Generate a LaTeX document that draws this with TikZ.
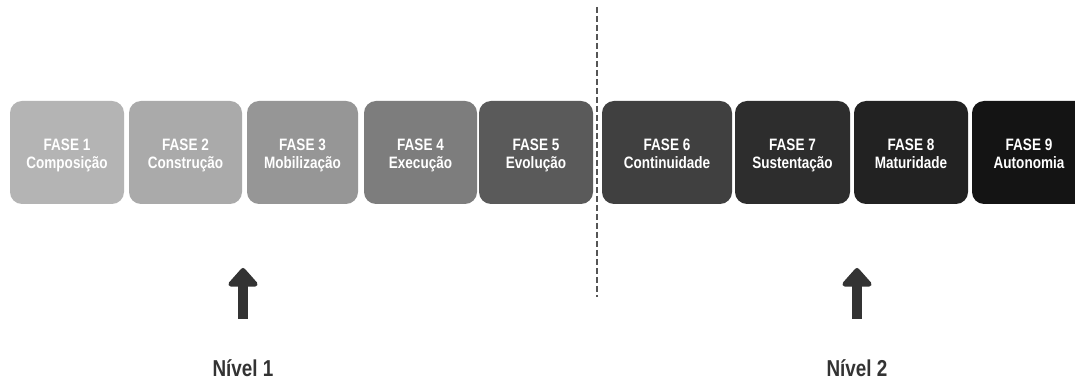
\documentclass[tikz,border=0pt]{standalone}
\usepackage{fontspec}
\setmainfont{Liberation Sans}
\newfontfamily\condfont[FakeStretch=0.82]{Liberation Sans}
\usetikzlibrary{arrows.meta}
\definecolor{c1}{HTML}{B4B4B4}
\definecolor{c2}{HTML}{AAAAAA}
\definecolor{c3}{HTML}{969696}
\definecolor{c4}{HTML}{7D7D7D}
\definecolor{c5}{HTML}{5A5A5A}
\definecolor{c6}{HTML}{404040}
\definecolor{c7}{HTML}{2D2D2D}
\definecolor{c8}{HTML}{222222}
\definecolor{c9}{HTML}{141414}
\definecolor{arrowc}{HTML}{333333}
\definecolor{dashc}{HTML}{555555}
\newcommand{\ph}[2]{\strut #1\\\strut #2}
\tikzset{
  phasebox/.style={rounded corners=12pt, draw=none},
  phasetext/.style={text=white, font=\condfont\bfseries\fontsize{16.5}{18}\selectfont, align=center, inner sep=0pt},
  levelarrow/.style={arrowc, line width=10pt, -{Triangle[width=34pt,length=20pt,round]}},
  leveltext/.style={text=arrowc, font=\condfont\bfseries\fontsize{23}{26}\selectfont},
  divider/.style={dashc, line width=2pt, dash pattern=on 6pt off 3pt}
}
\begin{document}
\begin{tikzpicture}[x=1pt,y=1pt]
\clip (0,0) rectangle (1075,385);
\fill[white] (0,0) rectangle (1075,385);
\foreach \l/\r/\c in {
  10/124/c1,
  129/242/c2,
  247/358/c3,
  364/477/c4,
  479/593/c5,
  602/732/c6,
  735/850/c7,
  854/968/c8,
  972/1095/c9}{
  \fill[phasebox, \c] (\l,181) rectangle (\r,284);
}
\node[phasetext] (f1) at (67,229.5) {\ph{FASE 1}{Composição}};
\node[phasetext] (f2) at (185.5,229.5) {\ph{FASE 2}{Construção}};
\node[phasetext] (f3) at (302.5,229.5) {\ph{FASE 3}{Mobilização}};
\node[phasetext] (f4) at (420.5,229.5) {\ph{FASE 4}{Execução}};
\node[phasetext] (f5) at (536,229.5) {\ph{FASE 5}{Evolução}};
\node[phasetext] (f6) at (667,229.5) {\ph{FASE 6}{Continuidade}};
\node[phasetext] (f7) at (792.5,229.5) {\ph{FASE 7}{Sustentação}};
\node[phasetext] (f8) at (911,229.5) {\ph{FASE 8}{Maturidade}};
\node[phasetext] (f9) at (1029,229.5) {\ph{FASE 9}{Autonomia}};
\coordinate (dtop) at (597,378);
\coordinate (dbot) at (597,88);
\draw[divider] (dtop) -- (dbot);
\coordinate (a1s) at (243,66);
\coordinate (a1t) at (243,117);
\coordinate (a2s) at (857,66);
\coordinate (a2t) at (857,117);
\draw[levelarrow] (a1s) -- (a1t);
\draw[levelarrow] (a2s) -- (a2t);
\node[leveltext] (n1) at (243,17) {Nível 1};
\node[leveltext] (n2) at (857,17) {Nível 2};
\end{tikzpicture}
\end{document}
